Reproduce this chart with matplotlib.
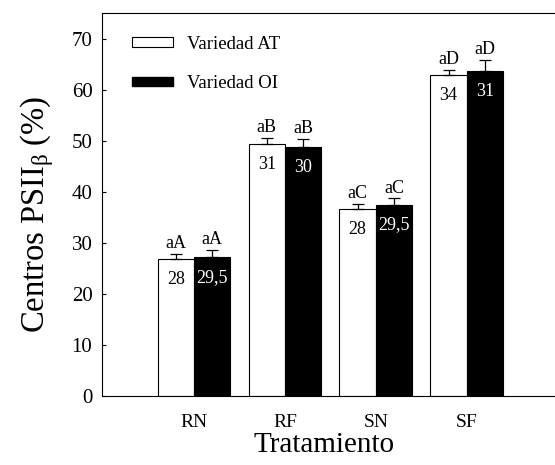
import numpy as np
import matplotlib
matplotlib.use("Agg")
import matplotlib.pyplot as plt
from matplotlib.patches import Patch

plt.rcParams["font.family"] = ["Liberation Serif", "DejaVu Serif"]
plt.rcParams["mathtext.fontset"] = "custom"
plt.rcParams["mathtext.rm"] = "Liberation Serif"
plt.rcParams["mathtext.it"] = "Liberation Serif:italic"

## Data ##
tratamientos = ["RN", "RF", "SN", "SF"]
at_vals = [26.9, 49.4, 36.7, 62.8]
at_err = [1.0, 1.2, 1.0, 1.1]
oi_vals = [27.2, 48.7, 37.5, 63.6]
oi_err = [1.5, 1.7, 1.2, 2.2]
at_letras = ["aA", "aB", "aC", "aD"]
oi_letras = ["aA", "aB", "aC", "aD"]
at_n = ["28", "31", "28", "34"]
oi_n = ["29,5", "30", "29,5", "31"]

fig = plt.figure(figsize=(5.55, 4.65), dpi=100)
ax = fig.add_axes([0.184, 0.148, 0.816, 0.824])

x = np.arange(len(tratamientos))
w = 0.4
ax.bar(x - w / 2, at_vals, w, color="white", edgecolor="black", linewidth=0.8)
ax.bar(x + w / 2, oi_vals, w, color="black", edgecolor="black", linewidth=0.8)
ax.errorbar(x - w / 2, at_vals, yerr=[np.zeros(4), at_err], fmt="none",
            ecolor="black", elinewidth=0.9, capsize=4, capthick=0.9)
ax.errorbar(x + w / 2, oi_vals, yerr=[np.zeros(4), oi_err], fmt="none",
            ecolor="black", elinewidth=0.9, capsize=4, capthick=0.9)

for i in range(len(tratamientos)):
    ax.text(x[i] - w / 2, at_vals[i] + at_err[i] + 0.3, at_letras[i],
            ha="center", va="bottom", fontsize=13)
    ax.text(x[i] + w / 2, oi_vals[i] + oi_err[i] + 0.3, oi_letras[i],
            ha="center", va="bottom", fontsize=13)
    ax.text(x[i] - w / 2, at_vals[i] - 4, at_n[i],
            ha="center", va="center", fontsize=13, color="black")
    ax.text(x[i] + w / 2, oi_vals[i] - 4, oi_n[i],
            ha="center", va="center", fontsize=13, color="white")

ax.set_xlim(-1.01, 3.97)
ax.set_ylim(0, 75)
ax.set_yticks(np.arange(0, 71, 10))
ax.set_xticks(x)
ax.set_xticklabels(tratamientos, fontsize=14)
ax.tick_params(axis="y", direction="in", length=3, labelsize=15, width=0.8, pad=7)
ax.tick_params(axis="x", length=0, pad=13)
ax.spines["right"].set_visible(False)
for s in ["left", "top", "bottom"]:
    ax.spines[s].set_linewidth(0.8)

ax.set_ylabel(r"Centros PSII$_\mathrm{β}$ (%)", fontsize=23.5)
ax.yaxis.set_label_coords(-0.102, 0.475)
ax.set_xlabel("Tratamiento", fontsize=21)
ax.xaxis.set_label_coords(0.49, -0.094)

handles = [Patch(facecolor="white", edgecolor="black", linewidth=0.8),
           Patch(facecolor="black", edgecolor="black")]
ax.legend(handles, ["Variedad AT", "Variedad OI"], loc="upper left",
          bbox_to_anchor=(0.028, 0.985), frameon=False, fontsize=13.5,
          handlelength=2.2, handleheight=0.4, labelspacing=1.2,
          handletextpad=0.75)

fig.savefig("out.png", dpi=100)
